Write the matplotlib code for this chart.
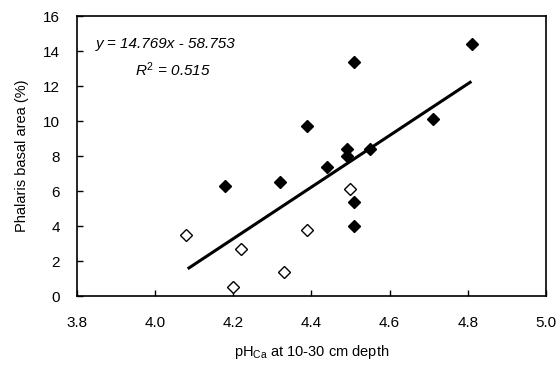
import matplotlib.pyplot as plt
import numpy as np

plt.rcParams['font.family'] = ['Liberation Sans', 'DejaVu Sans']
plt.rcParams['mathtext.fontset'] = 'custom'
plt.rcParams['mathtext.rm'] = 'Liberation Sans'
plt.rcParams['mathtext.it'] = 'Liberation Sans:italic'

# Données
ph_plein = [4.18, 4.32, 4.39, 4.44, 4.49, 4.49, 4.51, 4.55, 4.51, 4.51, 4.71, 4.81]
aire_plein = [6.3, 6.5, 9.7, 7.4, 8.4, 8.0, 13.4, 8.4, 5.4, 4.0, 10.1, 14.4]

ph_vide = [4.08, 4.22, 4.20, 4.33, 4.39, 4.50]
aire_vide = [3.5, 2.7, 0.5, 1.4, 3.8, 6.1]

# Régression
pente = 14.769
ordonnee = -58.753
r2 = 0.515
x_reg = [4.087, 4.806]

fig = plt.figure(figsize=(5.6, 3.71), dpi=100)
ax = fig.add_axes([0.137, 0.202, 0.838, 0.754])

X = np.array(x_reg)
ax.plot(X, pente*X + ordonnee, color='black', lw=2.2, zorder=2)
ax.plot(ph_plein, aire_plein, 'D', ms=6.5, color='black', zorder=3)
ax.plot(ph_vide, aire_vide, 'D', ms=6.5, mfc='white', mec='black', mew=1, zorder=3)

ax.set_xlim(3.8, 5.0)
ax.set_ylim(0, 16)
ax.set_xticks(np.arange(3.8, 5.01, 0.2))
ax.set_xticklabels([f"{v:.1f}" for v in np.arange(3.8, 5.01, 0.2)])
ax.set_yticks(range(0, 17, 2))
ax.tick_params(direction='in', length=4, width=1, labelsize=11, pad=14)
ax.tick_params(axis='y', pad=12)
for s in ax.spines.values():
    s.set_linewidth(1.2)

ax.set_xlabel(r"pH$_{\mathrm{Ca}}$ at 10-30 cm depth", fontsize=10.5, labelpad=10)
ax.set_ylabel("Phalaris basal area (%)", fontsize=10.5, labelpad=10)

ax.text(0.04, 0.9, f"y = {pente}x - {abs(ordonnee)}", transform=ax.transAxes,
        fontsize=11, style='italic', va='center')
ax.text(0.125, 0.81, rf"$R^2$ = {r2}", transform=ax.transAxes,
        fontsize=11, style='italic', va='center')

fig.savefig("out.png", dpi=100)
